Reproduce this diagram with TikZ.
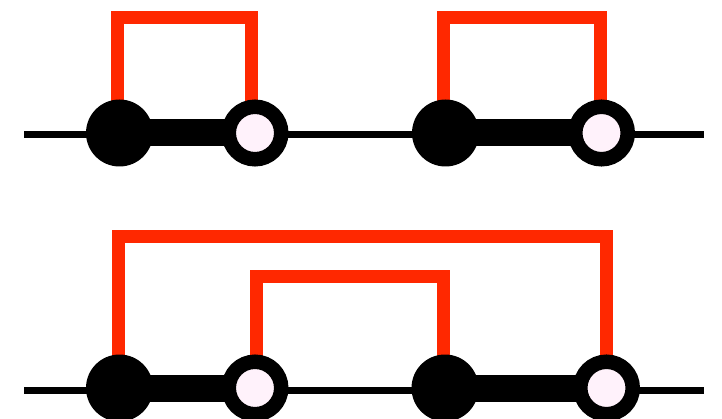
\documentclass[tikz,border=0pt]{standalone}
\usetikzlibrary{backgrounds}
\definecolor{bondred}{HTML}{FF2800}
\definecolor{pale}{HTML}{FFF2FB}
\begin{document}
\begin{tikzpicture}[x=1pt,y=-1pt,
  filled/.style={circle,fill=black,inner sep=0pt,minimum size=67pt},
  hollow/.style={circle,draw=black,line width=14.5pt,fill=pale,inner sep=0pt,minimum size=52.5pt},
  axisline/.style={line width=7pt,black},
  barline/.style={line width=27pt,black},
  redline/.style={line width=13pt,bondred,line join=miter,line cap=butt}]
\useasboundingbox (0,0) rectangle (722,419);
% top row
\node[filled] (a1) at (119.5,133) {};
\node[hollow] (b1) at (255,133) {};
\node[filled] (a2) at (445.5,133) {};
\node[hollow] (b2) at (601.5,133) {};
\coordinate (L1) at (24,134.5);
\coordinate (R1) at (704,134.5);
% bottom row
\node[filled] (a3) at (119.5,388) {};
\node[hollow] (b3) at (255,388) {};
\node[filled] (a4) at (445,388) {};
\node[hollow] (b4) at (606.5,388) {};
\coordinate (L2) at (24,390);
\coordinate (R2) at (704,390);
\begin{scope}[on background layer]
\draw[axisline] (L1) -- (R1);
\draw[axisline] (L2) -- (R2);
\draw[barline] (a1.center) -- (b1.center);
\draw[barline] (a2.center) -- (b2.center);
\draw[barline] (a3.center) -- (b3.center);
\draw[barline] (a4.center) -- (b4.center);
\draw[redline] ([xshift=-2pt]a1.center) -- ([xshift=-2pt]a1.center |- 0,17.5) -- ([xshift=-3.5pt]b1.center |- 0,17.5) -- ([xshift=-3.5pt]b1.center);
\draw[redline] ([xshift=-2.5pt]a2.center) -- ([xshift=-2.5pt]a2.center |- 0,17.5) -- ([xshift=-1pt]b2.center |- 0,17.5) -- ([xshift=-1pt]b2.center);
\draw[redline] ([xshift=-1.5pt]a3.center) -- ([xshift=-1.5pt]a3.center |- 0,236.5) -- ([xshift=-0.5pt]b4.center |- 0,236.5) -- ([xshift=-0.5pt]b4.center);
\draw[redline] ([xshift=1.5pt]b3.center) -- ([xshift=1.5pt]b3.center |- 0,276.5) -- ([xshift=-2pt]a4.center |- 0,276.5) -- ([xshift=-2pt]a4.center);
\end{scope}
\end{tikzpicture}
\end{document}
